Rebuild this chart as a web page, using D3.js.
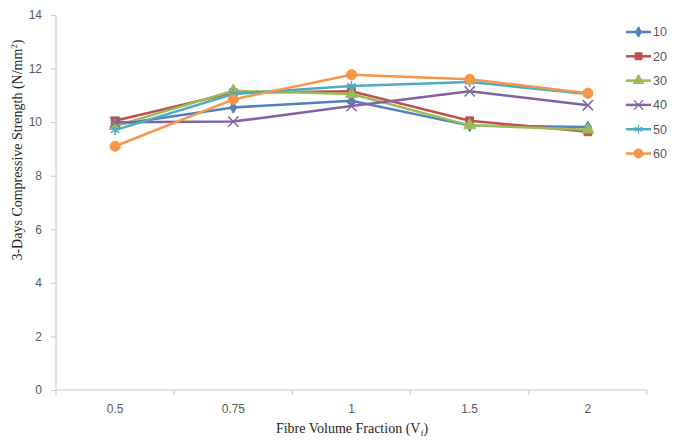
<!DOCTYPE html>
<html>
<head>
<meta charset="utf-8">
<script src="https://cdn.jsdelivr.net/npm/d3@7"></script>
<style>
  body { margin: 0; background: #fff; }
  svg text { font-family: "Liberation Sans", Arial, sans-serif; }
</style>
</head>
<body>
<div class="chart"></div>
<script>
// data
const fractions = ["0.5", "0.75", "1", "1.5", "2"];
const seriesNames = ["10", "20", "30", "40", "50", "60"];
const s10 = [9.9, 10.55, 10.8, 9.87, 9.82];
const s20 = [10.05, 11.1, 11.15, 10.05, 9.64];
const s30 = [9.85, 11.17, 11.05, 9.88, 9.72];
const s40 = [10.0, 10.02, 10.6, 11.15, 10.63];
const s50 = [9.7, 11.05, 11.35, 11.5, 11.05];
const s60 = [9.1, 10.85, 11.77, 11.6, 11.08];
const yTicks = [0, 2, 4, 6, 8, 10, 12, 14];

const colors = ["#4F81BD", "#C0504D", "#9BBB59", "#8064A2", "#4BACC6", "#F79646"];
const symbols = [d3.symbolDiamond, d3.symbolSquare, d3.symbolTriangle, d3.symbolX, d3.symbolAsterisk, d3.symbolCircle];
const symSizes = [40, 60, 60, 70, 70, 80];

const allSeries = [s10, s20, s30, s40, s50, s60].map((vals, i) => ({
    name: seriesNames[i],
    values: vals.map((v, j) => ({ x: fractions[j], y: v }))
}));

const width = 678, height = 441;
const margin = { left: 56, right: 31, top: 15, bottom: 51 };

const svg = d3.select(".chart").append("svg")
    .attr("width", width)
    .attr("height", height);

const x = d3.scaleBand()
    .domain(fractions)
    .range([margin.left, width - margin.right]);

const y = d3.scaleLinear()
    .domain([0, 14])
    .range([height - margin.bottom, margin.top]);

// y-axis
const yAxis = svg.append("g")
    .attr("transform", `translate(${margin.left},0)`)
    .call(d3.axisLeft(y).tickValues(yTicks).tickSize(5).tickPadding(9));
yAxis.select(".domain").attr("stroke", "#c8c8c8").attr("d", `M0,${y(14)}V${y(0)}`);
yAxis.selectAll(".tick line").attr("stroke", "#c8c8c8");
yAxis.selectAll(".tick text").attr("fill", "#595959").style("font-size", "12px");

// x-axis with ticks between categories
const xAxis = svg.append("g")
    .attr("transform", `translate(0,${y(0)})`)
    .call(d3.axisBottom(x).tickSize(0).tickPadding(14));
xAxis.select(".domain").attr("stroke", "#c8c8c8").attr("d", `M${margin.left},0H${width - margin.right}`);
xAxis.selectAll(".tick text").attr("fill", "#595959").style("font-size", "12px");
const bounds = fractions.map(f => x(f)).concat([x(fractions[fractions.length - 1]) + x.bandwidth()]);
xAxis.selectAll(".bound").data(bounds).enter().append("line")
    .attr("x1", d => d).attr("x2", d => d)
    .attr("y1", 0).attr("y2", 5)
    .attr("stroke", "#c8c8c8");

// lines
const line = d3.line()
    .x(d => x(d.x) + x.bandwidth() / 2)
    .y(d => y(d.y));

allSeries.forEach((s, i) => {
    const g = svg.append("g");
    g.append("path")
        .datum(s.values)
        .attr("fill", "none")
        .attr("stroke", colors[i])
        .attr("stroke-width", 2.5)
        .attr("d", line);
    const stroked = symbols[i] === d3.symbolX || symbols[i] === d3.symbolAsterisk;
    g.selectAll("path.mark")
        .data(s.values)
        .enter().append("path")
        .attr("class", "mark")
        .attr("transform", d => `translate(${x(d.x) + x.bandwidth() / 2},${y(d.y)})`)
        .attr("d", d3.symbol().type(symbols[i]).size(symSizes[i]))
        .attr("fill", stroked ? "none" : colors[i])
        .attr("stroke", colors[i])
        .attr("stroke-width", stroked ? 1.5 : 1);
});

// legend
const legend = svg.append("g").attr("transform", "translate(626,32)");
seriesNames.forEach((name, i) => {
    const row = legend.append("g").attr("transform", `translate(0,${i * 24.3})`);
    row.append("line")
        .attr("x1", 0).attr("x2", 25)
        .attr("stroke", colors[i]).attr("stroke-width", 2.5);
    const stroked = symbols[i] === d3.symbolX || symbols[i] === d3.symbolAsterisk;
    row.append("path")
        .attr("transform", "translate(12.5,0)")
        .attr("d", d3.symbol().type(symbols[i]).size(symSizes[i] * 0.8))
        .attr("fill", stroked ? "none" : colors[i])
        .attr("stroke", colors[i])
        .attr("stroke-width", stroked ? 1.2 : 1);
    row.append("text")
        .attr("x", 27)
        .attr("y", 0)
        .attr("dy", "0.35em")
        .attr("fill", "#595959")
        .style("font-size", "12.5px")
        .text(name);
});

// axis titles
svg.append("text")
    .attr("transform", "translate(22,150) rotate(-90)")
    .attr("text-anchor", "middle")
    .style("font-family", "'Liberation Serif', 'Times New Roman', serif")
    .style("font-size", "14px")
    .attr("fill", "#262626")
    .html('3-Days Compressive Strength (N/mm<tspan dy="-5" font-size="9px">2</tspan><tspan dy="5">)</tspan>');

svg.append("text")
    .attr("x", 352)
    .attr("y", 433)
    .attr("text-anchor", "middle")
    .style("font-family", "'Liberation Serif', 'Times New Roman', serif")
    .style("font-size", "14px")
    .attr("fill", "#262626")
    .html('Fibre Volume Fraction (V<tspan dy="3" font-size="9px">f</tspan><tspan dy="-3">)</tspan>');
</script>
</body>
</html>
